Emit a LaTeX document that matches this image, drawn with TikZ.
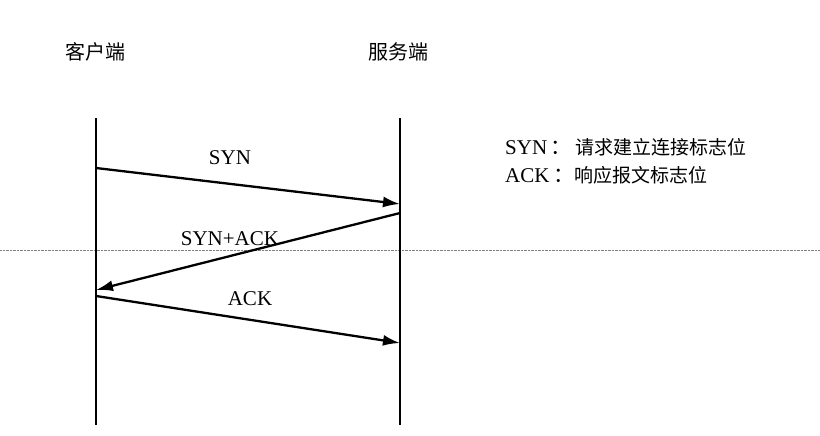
\documentclass[tikz,border=0pt]{standalone}
\usepackage{fontspec}
\usetikzlibrary{arrows.meta}
\setmainfont{Liberation Serif}
\newfontfamily\cjk{Noto Sans CJK SC}
\begin{document}
\begin{tikzpicture}[x=1pt,y=-1pt,
  life/.style={line width=2.4pt},
  msg/.style={line width=2.3pt,-{Latex[length=17pt,width=11pt]}},
  lbl/.style={font=\fontsize{21}{24}\selectfont,inner sep=0pt},
  clbl/.style={font=\cjk\fontsize{20}{24}\selectfont,inner sep=0pt}]
\useasboundingbox (0,0) rectangle (820,436);
\fill[white] (0,0) rectangle (820,436);
\draw[gray,densely dotted] (0,250) -- (820,250);
\coordinate (lt) at (96,118); \coordinate (lb) at (96,425);
\coordinate (rt) at (400,118); \coordinate (rb) at (400,425);
\draw[life] (lt) -- (lb);
\draw[life] (rt) -- (rb);
\node[clbl] (c) at (95,52) {客户端};
\node[clbl] (s) at (398,52) {服务端};
\coordinate (a1) at (96,168); \coordinate (b1) at (400,204);
\coordinate (a2) at (400,213); \coordinate (b2) at (96,290);
\coordinate (a3) at (96,296); \coordinate (b3) at (400,343);
\draw[msg] (a1) -- (b1);
\draw[msg] (a2) -- (b2);
\draw[msg] (a3) -- (b3);
\node[lbl] (l1) at (230,158) {SYN};
\node[lbl] (l2) at (230,239) {SYN+ACK};
\node[lbl] (l3) at (250,299) {ACK};
\node[lbl,anchor=west] (k1) at (505,147) {SYN\,{\cjk：}\,{\cjk\fontsize{19}{24}\selectfont 请求建立连接标志位}};
\node[lbl,anchor=west] (k2) at (505,175) {ACK\,{\cjk：}{\cjk\fontsize{19}{24}\selectfont 响应报文标志位}};
\end{tikzpicture}
\end{document}
